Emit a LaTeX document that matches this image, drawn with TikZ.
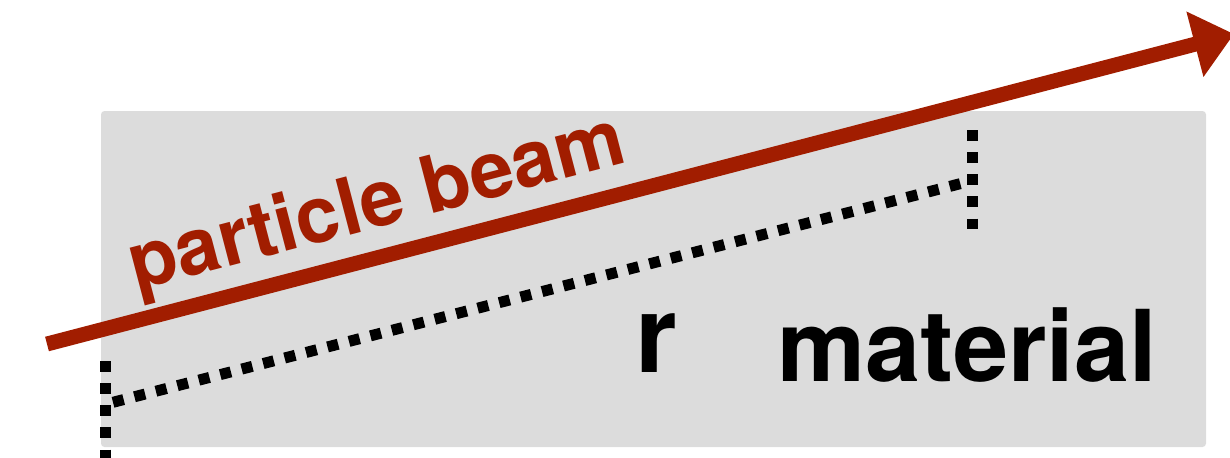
\documentclass[tikz,border=0pt]{standalone}
\usepackage{fontspec}
\setmainfont{TeX Gyre Heros}
\usetikzlibrary{arrows.meta}
\definecolor{beamred}{RGB}{161,29,0}
\definecolor{slabgray}{RGB}{220,220,220}

\begin{document}
\begin{tikzpicture}[
  x=0.02cm, y=-0.02cm,
  beamarrow/.style={draw=beamred, line width=8.5pt,
                    -{Triangle[length=23pt, width=37pt]}},
  dotline/.style={line width=6.26pt, dash pattern=on 6.26pt off 6.35pt},
  beamtext/.style={text=beamred, inner sep=0pt, anchor=base west,
                   rotate=14.65, font=\fontsize{44.8}{48}\selectfont\bfseries},
  slabtext/.style={inner sep=0pt, anchor=base west,
                   font=\fontsize{56.4}{60}\selectfont\bfseries},
]
\useasboundingbox (0,0) rectangle (1230,457);

% =================================================================
% MATERIAL SLAB
% =================================================================
\fill[slabgray, rounded corners=2pt] (101,111) rectangle (1206,447);

\node[slabtext] (material) at (777,381) {material};
\node[slabtext, font=\fontsize{61}{66}\selectfont\bfseries] (rlabel) at (635,372) {r};

% =================================================================
% DISTANCE r (dotted)
% =================================================================
\coordinate (lefttop) at (105.5,361);
\coordinate (leftbot) at (105.5,470);
\coordinate (righttop) at (972,130);
\coordinate (rightbot) at (972,229);
\coordinate (rstart) at (113,402.3);
\coordinate (rend) at (960.5,183.6);

\draw[dotline] (lefttop) -- (leftbot);
\draw[dotline] (righttop) -- (rightbot);
\draw[dotline] (rstart) -- (rend);

% =================================================================
% BEAM
% =================================================================
\coordinate (beamstart) at (47,344);
\coordinate (beamtip) at (1234,34);
\draw[beamarrow] (beamstart) -- (beamtip);

\node[beamtext] (beamlabel) at (136,291) {particle beam};

\end{tikzpicture}
\end{document}
